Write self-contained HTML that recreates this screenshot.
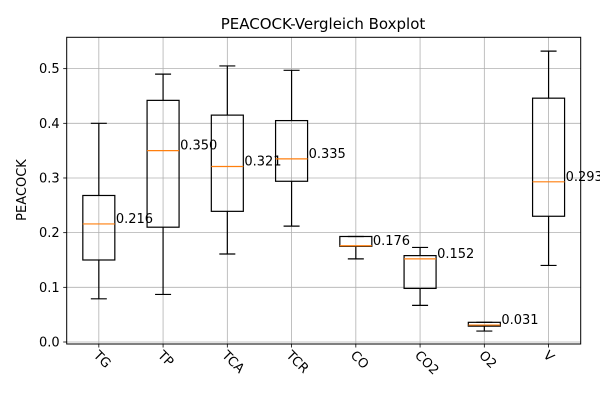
<!DOCTYPE html>
<html><head><meta charset="utf-8"><style>
body{margin:0;background:#fff}
svg text{font-family:"DejaVu Sans","Liberation Sans",sans-serif}
</style></head><body>
<svg id="chart" width="600" height="400" xmlns="http://www.w3.org/2000/svg">
<rect width="600" height="400" fill="#fff"/>
<text x="323" y="29" font-size="15" text-anchor="middle">PEACOCK-Vergleich Boxplot</text>
<text transform="translate(26,190) rotate(-90)" font-size="13" text-anchor="middle">PEACOCK</text>
<g id="grid"></g><g id="marks"></g><g id="axes"></g>
</svg>
<script>
const categories=["TG","TP","TCA","TCR","CO","CO2","O2","V"];
const whiskerLow=[0.079,0.087,0.161,0.212,0.152,0.067,0.020,0.140];
const q1=[0.150,0.210,0.239,0.294,0.175,0.098,0.029,0.230];
const medians=[0.216,0.350,0.321,0.335,0.176,0.152,0.031,0.293];
const q3=[0.268,0.442,0.415,0.405,0.193,0.158,0.036,0.446];
const whiskerHigh=[0.400,0.490,0.505,0.497,0.193,0.173,0.036,0.532];
const yTicks=[0.0,0.1,0.2,0.3,0.4,0.5];
const L=66.7,R=580.7,T=37.3,B=344;
const x=i=>L+(i+0.5)*(R-L)/categories.length;
const y=v=>342-v*546.7;
const NS="http://www.w3.org/2000/svg";
function mk(tag,attrs,parent){const e=document.createElementNS(NS,tag);for(const k in attrs)e.setAttribute(k,attrs[k]);parent.appendChild(e);return e;}
const grid=document.getElementById('grid'),marks=document.getElementById('marks'),axes=document.getElementById('axes');
yTicks.forEach(t=>{
  const g=mk('line',{x1:L,x2:R,y1:y(t),y2:y(t),stroke:'#b0b0b0','stroke-width':0.8},grid);
  
  
  const tk=mk('line',{x1:L-3.5,x2:L,y1:y(t),y2:y(t),stroke:'#000','stroke-width':0.8},axes);
  
  
  const lb=mk('text',{x:L-7,y:y(t)+4.5,'font-size':13,'text-anchor':'end'},axes);
  lb.textContent=t.toFixed(1);
  
  
});
categories.forEach((c,i)=>{
  const cx=x(i),hw=16,cw=8;
  const gl=mk('line',{x1:cx,x2:cx,y1:T,y2:B,stroke:'#b0b0b0','stroke-width':0.8},grid);
  
  
  const g=mk('g',{},marks);
  
  
  const s={stroke:'#000','stroke-width':1.2,fill:'none'};
  mk('line',Object.assign({x1:cx,x2:cx,y1:y(whiskerLow[i]),y2:y(q1[i])},s),g);
  mk('line',Object.assign({x1:cx,x2:cx,y1:y(q3[i]),y2:y(whiskerHigh[i])},s),g);
  mk('line',Object.assign({x1:cx-cw,x2:cx+cw,y1:y(whiskerLow[i]),y2:y(whiskerLow[i])},s),g);
  mk('line',Object.assign({x1:cx-cw,x2:cx+cw,y1:y(whiskerHigh[i]),y2:y(whiskerHigh[i])},s),g);
  mk('rect',Object.assign({x:cx-hw,y:y(q3[i]),width:2*hw,height:y(q1[i])-y(q3[i])},s),g);
  mk('line',{x1:cx-hw,x2:cx+hw,y1:y(medians[i]),y2:y(medians[i]),stroke:'#ff7f0e','stroke-width':1.2},g);
  const ml=mk('text',{x:cx+hw+1,y:y(medians[i])-1,'font-size':13},marks);
  ml.textContent=medians[i].toFixed(3);
  
  
  const tk=mk('line',{x1:cx,x2:cx,y1:B,y2:B+3.5,stroke:'#000','stroke-width':0.8},axes);
  
  
  const lb=mk('text',{transform:`translate(${cx-6},${B+12}) rotate(45)`,'font-size':13},axes);
  lb.textContent=c;
  
  
});
const fr=mk('rect',{x:L,y:T,width:R-L,height:B-T,fill:'none',stroke:'#000','stroke-width':1},axes);


</script>
</body></html>
